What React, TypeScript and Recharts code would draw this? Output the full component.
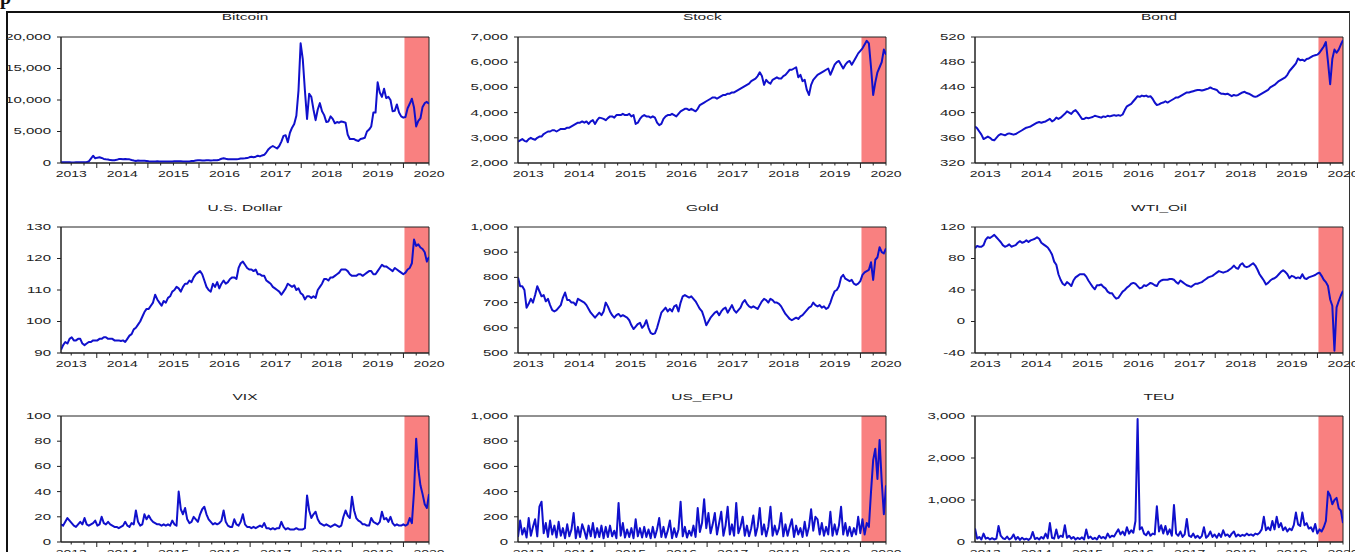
import { LineChart, Line, XAxis, YAxis, ReferenceArea } from "recharts";

// sample grid: semi-monthly, spread evenly over the visible window
const START = 2013.3;
const END = 2020.5;
const SHADE_FROM = 2020.02;
const years = [2013, 2014, 2015, 2016, 2017, 2018, 2019, 2020];

// rows: 2013 (17 pts), 2014..2019 (24 pts each), 2020 (12 pts)
const bitcoin = [
  120, 115, 120, 115, 105, 85, 95, 105, 120, 125, 130, 125, 170, 250, 700, 1150, 750,
  850, 900, 800, 650, 600, 560, 460, 450, 440, 500, 620, 650, 600, 620, 590, 580, 480, 400, 330, 380, 360, 370, 360, 330,
  270, 220, 230, 250, 270, 240, 240, 230, 240, 230, 240, 250, 270, 290, 280, 260, 230, 230, 240, 250, 300, 330, 400, 440,
  430, 390, 380, 420, 420, 410, 420, 450, 450, 530, 680, 740, 660, 600, 580, 580, 600, 610, 640, 700, 720, 740, 780, 900,
  1000, 900, 1000, 1150, 1050, 1200, 1300, 1700, 2200, 2500, 2700, 2500, 2300, 2700, 3400, 4300, 4400, 3300, 4800, 5600, 6200, 7500, 11500, 19000,
  16500, 11500, 7000, 11000, 10500, 8500, 6800, 8500, 9500, 8200, 7600, 6500, 6600, 7400, 7000, 6300, 6500, 6400, 6600, 6500, 6400, 4500, 3800, 3800,
  3800, 3600, 3500, 3800, 3900, 4000, 5000, 5300, 5800, 8000, 8000, 12800, 11200, 10500, 11800, 10300, 10500, 10000, 8200, 8300, 9300, 8000, 7400, 7200,
  7300, 8700, 9400, 10200, 8800, 5800, 6700, 7100, 8900, 9500, 9700, 9400,
];

const stock = [
  2850, 2900, 2950, 2880, 2850, 2950, 3000, 2950, 2920, 3000, 3050, 3050, 3150, 3200, 3250, 3250, 3300,
  3300, 3250, 3300, 3350, 3350, 3350, 3400, 3400, 3450, 3500, 3550, 3600, 3600, 3650, 3600, 3650, 3550, 3650, 3700, 3550, 3700, 3800, 3780, 3750,
  3700, 3780, 3850, 3850, 3800, 3900, 3900, 3900, 3950, 3900, 3900, 3950, 3850, 3900, 3550, 3600, 3750, 3850, 3900, 3850, 3850, 3800, 3850, 3800,
  3600, 3500, 3550, 3750, 3850, 3900, 3900, 3950, 3900, 3850, 3950, 4050, 4100, 4150, 4150, 4100, 4150, 4100, 4050, 4150, 4300, 4350, 4400, 4450,
  4500, 4550, 4600, 4600, 4550, 4600, 4650, 4700, 4700, 4750, 4750, 4800, 4800, 4850, 4900, 4950, 5000, 5050, 5100, 5150, 5250, 5300, 5350, 5450,
  5600, 5450, 5100, 5300, 5200, 5150, 5300, 5350, 5400, 5350, 5350, 5450, 5500, 5600, 5700, 5700, 5750, 5800, 5400, 5500, 5250, 5300, 4900, 4700,
  5100, 5300, 5400, 5500, 5550, 5600, 5650, 5700, 5750, 5500, 5700, 5900, 6000, 6050, 5900, 5750, 5900, 6000, 6050, 5900, 6050, 6200, 6350, 6450,
  6550, 6700, 6850, 6750, 5800, 4700, 5200, 5600, 5800, 6000, 6500, 6300,
];

const bond = [
  378, 375, 370, 365, 358, 360, 362, 360, 357, 356, 360, 364, 366, 365, 364, 366, 367,
  366, 365, 366, 368, 370, 372, 374, 376, 377, 378, 380, 382, 384, 385, 384, 385, 386, 388, 390, 386, 388, 392, 390, 392,
  395, 398, 402, 400, 398, 402, 404, 400, 395, 390, 390, 392, 391, 392, 393, 395, 394, 393, 392, 394, 393, 395, 394, 395,
  396, 395, 396, 395, 397, 404, 410, 412, 414, 418, 422, 426, 425, 427, 426, 427, 425, 426, 422, 416, 412, 413, 415, 416,
  418, 416, 418, 420, 422, 424, 424, 426, 428, 430, 432, 432, 433, 434, 435, 436, 436, 435, 436, 437, 438, 440, 438, 437,
  436, 432, 430, 430, 429, 430, 428, 426, 428, 427, 428, 430, 432, 433, 431, 430, 428, 426, 425, 426, 428, 430, 432, 434,
  436, 440, 442, 444, 447, 450, 452, 454, 456, 460, 466, 470, 474, 478, 486, 483, 484, 482, 485, 486, 488, 490, 491, 492,
  495, 500, 505, 512, 480, 445, 485, 500, 495, 500, 508, 515,
];

const usDollar = [
  91, 92.5, 93.5, 93, 94.5, 95, 94, 94, 94.5, 94.5, 93, 92.5, 93, 93.5, 93.5, 94, 94,
  94, 94.5, 94.5, 95, 95, 94.5, 94.5, 94.5, 94, 94, 94, 93.8, 94, 93.5, 94.5, 95.5, 96, 97.5, 98, 99, 100, 101.5, 103, 104,
  104, 105, 106, 108.5, 107, 106, 105, 106.5, 106, 107.5, 108, 109.5, 110, 111, 110.5, 109.5, 111, 112, 112, 113, 112.5, 114, 115, 115.5,
  116, 115, 113, 111, 110, 109.5, 112, 111, 112.5, 110.5, 112, 113, 112, 112.5, 113.5, 114, 114, 113.5, 117, 118.5, 119, 118, 117, 116.5,
  116.5, 116, 116.5, 115, 115, 114.5, 114.5, 113, 112.5, 112, 111, 110.5, 110, 109.5, 108.5, 109.5, 110.5, 112, 111.5, 111, 111.5, 110, 110.5, 109,
  108.5, 107, 108, 108, 107.5, 108, 107.5, 110, 111, 112, 113.5, 113.5, 113, 114, 114, 114.5, 115, 115.5, 116.5, 116.5, 116.5, 116, 115, 114.5,
  114.5, 114.5, 115, 115, 114.5, 115, 115.5, 116, 116, 115, 115, 116, 117, 118, 117.5, 117.5, 117, 116.5, 116, 117, 116.5, 116, 115.5, 115,
  115.5, 116.5, 117, 118.5, 126, 124, 124.5, 123.5, 123, 122, 119, 120.5,
];

const gold = [
  800, 765, 765, 750, 680, 695, 715, 700, 730, 765, 745, 725, 730, 705, 715, 690, 670,
  665, 670, 680, 690, 720, 740, 710, 710, 700, 700, 690, 715, 710, 705, 700, 690, 675, 660, 650, 640, 650, 660, 650, 665,
  700, 685, 665, 650, 640, 650, 655, 645, 650, 645, 640, 630, 610, 595, 605, 615, 620, 600, 610, 630, 600, 580, 575, 578,
  600, 630, 660, 670, 680, 665, 675, 665, 685, 690, 665, 700, 725, 730, 725, 720, 725, 715, 705, 690, 675, 665, 640, 610,
  625, 640, 650, 660, 665, 650, 665, 675, 680, 660, 675, 690, 670, 660, 670, 680, 700, 710, 695, 685, 680, 685, 680, 675,
  690, 705, 715, 710, 700, 715, 710, 700, 700, 695, 685, 670, 655, 645, 635, 630, 635, 640, 635, 645, 650, 660, 670, 680,
  685, 700, 690, 685, 690, 680, 685, 675, 680, 700, 725, 745, 750, 765, 800, 810, 795, 790, 785, 790, 775, 770, 775, 785,
  810, 820, 825, 830, 860, 790, 870, 880, 920, 900, 895, 915,
];

const wtiOil = [
  93, 96, 95, 95, 97, 104, 107, 106, 108, 110, 107, 104, 101, 97, 95, 96, 98,
  95, 96, 97, 100, 102, 100, 101, 103, 101, 103, 104, 105, 107, 105, 100, 98, 96, 94, 90, 85, 76, 72, 60, 53,
  48, 46, 50, 48, 45, 52, 56, 58, 60, 60, 60, 57, 52, 48, 44, 41, 46, 46, 47, 44, 42, 38, 36, 36,
  32, 29, 30, 34, 38, 40, 43, 45, 48, 49, 48, 45, 42, 43, 46, 45, 47, 49, 48, 46, 45, 50, 52, 53,
  53, 53, 54, 54, 53, 50, 48, 52, 50, 48, 46, 45, 44, 46, 48, 48, 49, 50, 52, 54, 56, 57, 58, 60,
  62, 64, 63, 62, 63, 64, 66, 68, 71, 68, 67, 72, 74, 70, 69, 70, 72, 74, 71, 66, 60, 56, 52, 47,
  49, 52, 54, 55, 57, 60, 63, 65, 63, 60, 55, 58, 57, 55, 56, 55, 60, 55, 54, 56, 57, 58, 59, 61,
  62, 58, 53, 50, 45, 28, 20, -37, 18, 26, 33, 39,
];

const vix = [
  14, 13, 16, 19, 17, 15, 13, 12, 14, 16, 14, 19, 14, 13, 14, 15, 17,
  13, 14, 20, 15, 14, 16, 14, 13, 12, 12, 11, 12, 13, 16, 13, 12, 15, 14, 25, 16, 13, 14, 22, 18,
  21, 18, 16, 15, 14, 14, 13, 14, 13, 14, 13, 17, 14, 13, 40, 26, 22, 27, 18, 15, 16, 20, 18, 16,
  22, 26, 28, 22, 18, 16, 14, 15, 14, 15, 17, 25, 16, 13, 12, 12, 18, 14, 13, 16, 22, 14, 12, 12,
  11, 12, 11, 12, 13, 12, 15, 11, 11, 10, 11, 10, 11, 11, 16, 12, 10, 11, 10, 10, 10, 11, 10, 10,
  10, 11, 37, 25, 19, 22, 24, 18, 15, 14, 13, 14, 13, 12, 13, 14, 13, 12, 13, 20, 25, 21, 19, 36,
  25, 19, 17, 16, 14, 14, 13, 13, 19, 16, 15, 14, 16, 24, 18, 19, 16, 20, 15, 13, 14, 13, 13, 14,
  13, 14, 19, 15, 40, 82, 58, 45, 38, 30, 27, 38,
];

const usEpu = [
  40, 170, 60, 110, 35, 190, 50, 120, 180, 45, 280, 320, 70, 150, 40, 170, 60,
  130, 35, 160, 50, 110, 30, 140, 45, 100, 230, 30, 120, 40, 140, 90, 25, 130, 45, 150, 35, 110, 40, 130, 30,
  120, 40, 130, 45, 90, 30, 310, 50, 150, 35, 100, 40, 110, 30, 180, 45, 110, 35, 120, 40, 100, 30, 120, 35,
  100, 190, 40, 120, 35, 90, 170, 30, 110, 40, 100, 320, 45, 120, 35, 90, 50, 130, 40, 270, 80, 150, 340, 110,
  230, 70, 140, 230, 60, 150, 240, 50, 130, 280, 60, 140, 50, 310, 70, 120, 200, 50, 130, 45, 110, 210, 50, 120,
  270, 60, 140, 45, 120, 280, 50, 130, 60, 110, 230, 45, 140, 50, 120, 180, 40, 130, 60, 110, 40, 160, 50, 120,
  260, 90, 200, 180, 60, 150, 50, 120, 60, 240, 50, 140, 60, 130, 280, 60, 150, 50, 120, 45, 110, 60, 200, 70,
  180, 60, 150, 120, 400, 650, 740, 500, 810, 480, 220, 450,
];

const teu = [
  320, 80, 120, 60, 200, 80, 100, 60, 90, 60, 80, 380, 150, 90, 70, 130, 60,
  90, 180, 60, 120, 50, 100, 60, 80, 50, 90, 240, 70, 100, 60, 120, 80, 200, 90, 450, 100, 80, 300, 90, 150,
  120, 400, 100, 150, 80, 120, 60, 100, 70, 110, 60, 300, 90, 130, 70, 100, 60, 150, 90, 120, 80, 200, 110, 150,
  130, 220, 300, 180, 250, 160, 350, 200, 280, 220, 500, 2930, 300, 350, 200, 160, 250, 150, 200, 180, 850, 250, 400, 200,
  380, 180, 300, 150, 880, 200, 150, 250, 120, 180, 550, 150, 120, 200, 100, 150, 90, 140, 350, 100, 150, 250, 120, 180,
  100, 200, 120, 280, 150, 180, 120, 200, 250, 130, 180, 140, 170, 150, 200, 160, 180, 150, 200, 180, 220, 300, 600, 280,
  350, 280, 500, 300, 600, 350, 450, 280, 350, 250, 320, 280, 400, 700, 420, 380, 700, 400, 450, 320, 350, 250, 430, 200,
  300, 250, 350, 500, 1200, 1100, 900, 1000, 1050, 800, 750, 450,
];

const bitcoinTicks = [0, 5000, 10000, 15000, 20000];
const stockTicks = [2000, 3000, 4000, 5000, 6000, 7000];
const bondTicks = [320, 360, 400, 440, 480, 520];
const dollarTicks = [90, 100, 110, 120, 130];
const goldTicks = [500, 600, 700, 800, 900, 1000];
const oilTicks = [-40, 0, 40, 80, 120];
const vixTicks = [0, 20, 40, 60, 80, 100];
const epuTicks = [0, 200, 400, 600, 800, 1000];
const teuTicks = [0, 1000, 2000, 3000];

const panels = [
  { title: "Bitcoin", values: bitcoin, ticks: bitcoinTicks },
  { title: "Stock", values: stock, ticks: stockTicks },
  { title: "Bond", values: bond, ticks: bondTicks },
  { title: "U.S. Dollar", values: usDollar, ticks: dollarTicks },
  { title: "Gold", values: gold, ticks: goldTicks },
  { title: "WTI_Oil", values: wtiOil, ticks: oilTicks },
  { title: "VIX", values: vix, ticks: vixTicks },
  { title: "US_EPU", values: usEpu, ticks: epuTicks },
  { title: "TEU", values: teu, ticks: teuTicks },
];

// layout (plot rectangles)
const colLeft = [61, 518.3, 975];
const rowTop = [36.7, 227.3, 416];
const PLOT_W = 368;
const PLOT_H = 126;
const Y_W = 60;
const X_H = 24;
const M_TOP = 6;
const M_RIGHT = 22;

const FONT = "'Liberation Sans', Arial, sans-serif";
const INK = "#222";
const BLUE = "#1010CC";
const SHADE = "#F98080";

const xTicks: number[] = [];
years.forEach((y) => {
  [0, 0.25, 0.5, 0.75].forEach((q) => {
    const v = y + q;
    if (v >= START - 1e-9 && v <= END + 1e-9) xTicks.push(v);
  });
});

const XTick = (props: any) => {
  const { x, y, payload } = props;
  const v = payload.value as number;
  const frac = v - Math.floor(v);
  const major = frac < 1e-6;
  const isLabel = Math.abs(frac - 0.5) < 1e-6;
  return (
    <g>
      <line x1={x} x2={x} y1={y} y2={y + (major ? 5 : 2.5)} stroke={INK} strokeWidth={1} />
      {isLabel && (
        <text
          transform={`translate(${x} ${y + 11}) scale(1 0.6)`}
          textAnchor="middle"
          dominantBaseline="central"
          fontSize={14}
          fontFamily={FONT}
          fill={INK}
        >
          {Math.floor(v)}
        </text>
      )}
    </g>
  );
};

const YTick = (props: any) => {
  const { x, y, payload } = props;
  return (
    <text
      transform={`translate(${x} ${y}) scale(1 0.6)`}
      textAnchor="end"
      dominantBaseline="central"
      fontSize={15}
      fontFamily={FONT}
      fill={INK}
    >
      {Number(payload.value).toLocaleString("en-US")}
    </text>
  );
};

function Panel({ title, values, ticks, left, top }: any) {
  const yMin = ticks[0];
  const yMax = ticks[ticks.length - 1];
  const step = (END - START) / (values.length - 1);
  const data = values.map((v: number, i: number) => ({ t: START + i * step, v }));

  return (
    <>
      <div
        style={{
          position: "absolute",
          left,
          top: top - 29.5,
          width: PLOT_W,
          height: 20,
          lineHeight: "20px",
          textAlign: "center",
          fontFamily: FONT,
          fontSize: 15.5,
          color: INK,
          transform: "scaleY(0.58)",
          whiteSpace: "nowrap",
        }}
      >
        {title}
      </div>
      <div style={{ position: "absolute", left: left - Y_W, top: top - M_TOP }}>
        <LineChart
          width={Y_W + PLOT_W + M_RIGHT}
          height={M_TOP + PLOT_H + X_H}
          data={data}
          margin={{ top: M_TOP, right: M_RIGHT, bottom: 0, left: 0 }}
        >
          <ReferenceArea
            x1={SHADE_FROM}
            x2={END}
            y1={yMin}
            y2={yMax}
            fill={SHADE}
            fillOpacity={1}
            stroke="none"
          />
          <XAxis
            dataKey="t"
            type="number"
            domain={[START, END]}
            allowDataOverflow
            ticks={xTicks}
            interval={0}
            tick={XTick}
            tickLine={false}
            tickSize={0}
            tickMargin={0}
            axisLine={{ stroke: INK }}
            height={X_H}
          />
          <YAxis
            type="number"
            domain={[yMin, yMax]}
            allowDataOverflow
            ticks={ticks}
            interval={0}
            tick={YTick}
            tickSize={4}
            tickMargin={6}
            tickLine={{ stroke: INK }}
            axisLine={{ stroke: INK }}
            width={Y_W}
          />
          <Line
            type="linear"
            dataKey="v"
            stroke={BLUE}
            strokeWidth={2}
            strokeLinejoin="round"
            dot={false}
            isAnimationActive={false}
          />
          <ReferenceArea
            x1={START}
            x2={END}
            y1={yMin}
            y2={yMax}
            fill="none"
            stroke={INK}
            strokeWidth={1}
          />
        </LineChart>
      </div>
    </>
  );
}

export default function App() {
  return (
    <div
      style={{
        position: "absolute",
        left: 0,
        top: 0,
        width: 1355,
        height: 552,
        overflow: "hidden",
        background: "#fff",
      }}
    >
      <div
        style={{
          position: "absolute",
          left: 0,
          top: -13.5,
          fontFamily: "'Liberation Serif', serif",
          fontWeight: "bold",
          fontSize: 20,
          lineHeight: "20px",
          color: "#111",
        }}
      >
        p
      </div>
      <div
        style={{
          position: "absolute",
          left: 6,
          top: 11,
          width: 1344,
          height: 600,
          boxSizing: "border-box",
          borderLeft: "2px solid #111",
          borderTop: "2px solid #111",
          borderRight: "1px solid #333",
        }}
      />
      {panels.map((p, i) => (
        <Panel
          key={p.title}
          title={p.title}
          values={p.values}
          ticks={p.ticks}
          left={colLeft[i % 3]}
          top={rowTop[Math.floor(i / 3)]}
        />
      ))}
    </div>
  );
}
